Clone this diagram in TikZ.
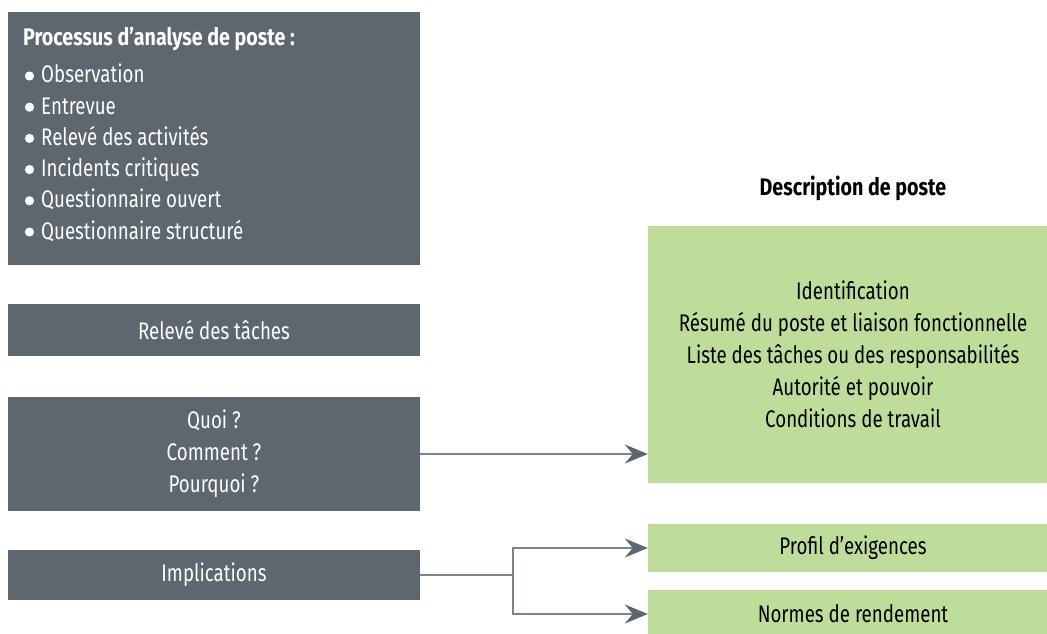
\documentclass[tikz,border=0pt]{standalone}
\usepackage{fontspec}
\setmainfont[FakeStretch=0.78,BoldFeatures={FakeStretch=0.82}]{Fira Sans}
\usetikzlibrary{arrows.meta}
\definecolor{slate}{HTML}{5C6770}
\definecolor{leaf}{HTML}{BEDC9A}
\definecolor{wire}{HTML}{7A858D}
\newcommand{\boxfont}{\fontsize{24}{32}\selectfont}

\tikzset{
  darkbox/.style={fill=slate, text=white, minimum width=412pt, align=center, inner sep=0pt},
  greenbox/.style={fill=leaf, text=black, minimum width=410pt, align=center, inner sep=0pt},
  link/.style={draw=wire, line width=2pt, -{Stealth[length=23pt,width=19pt,inset=8pt,color=slate]}}
}

\begin{document}
\begin{tikzpicture}[x=1pt,y=-1pt,font=\boxfont]
\clip (0,0) rectangle (1047,634);
%%% left column: the analysis steps
\node[darkbox, minimum height=253pt] (methods) at (214,138.5) {};
\node[anchor=base west, text=white, inner sep=0pt, font=\boxfont\bfseries] (title) at (23,46) {Processus d’analyse de poste :};
\foreach \task [count=\i] in {Observation, Entrevue, Relevé des activités, Incidents critiques, Questionnaire ouvert, Questionnaire structuré}{
  \node[anchor=base west, text=white, inner sep=0pt] (m\i) at (41,{83+31.2*(\i-1)}) {\task};
  \fill[white] (29.5,{76+31.2*(\i-1)}) circle (4.6pt);
}
%
\node[darkbox, minimum height=52pt] (releve) at (214,330) {Relevé des tâches};
\node[darkbox, minimum height=114pt] (quoi) at (214,454) {Quoi ?\\Comment ?\\Pourquoi ?};
\node[darkbox, minimum height=50pt] (implic) at (214,575) {Implications};
%%% right column: what comes out of it
\node[anchor=base, inner sep=0pt, font=\boxfont\bfseries] (desc) at (853,195) {Description de poste};
\node[greenbox, minimum height=257pt] (descbox) at (853,354.5) {Identification\\Résumé du poste et liaison fonctionnelle\\Liste des tâches ou des responsabilités\\Autorité et pouvoir\\Conditions de travail};
\node[greenbox, minimum height=48pt] (profil) at (853,548) {Profil d’exigences};
\node[greenbox, minimum height=48pt] (normes) at (853,614) {Normes de rendement};
%%% connectors
\draw[link] (quoi.east) -- (descbox.west |- quoi.east);
\coordinate (split) at (513,575);
\draw[draw=wire, line width=2pt] (implic.east) -- (split);
\draw[link] (split) |- (profil.west);
\draw[link] (split) |- (normes.west);
\end{tikzpicture}
\end{document}
